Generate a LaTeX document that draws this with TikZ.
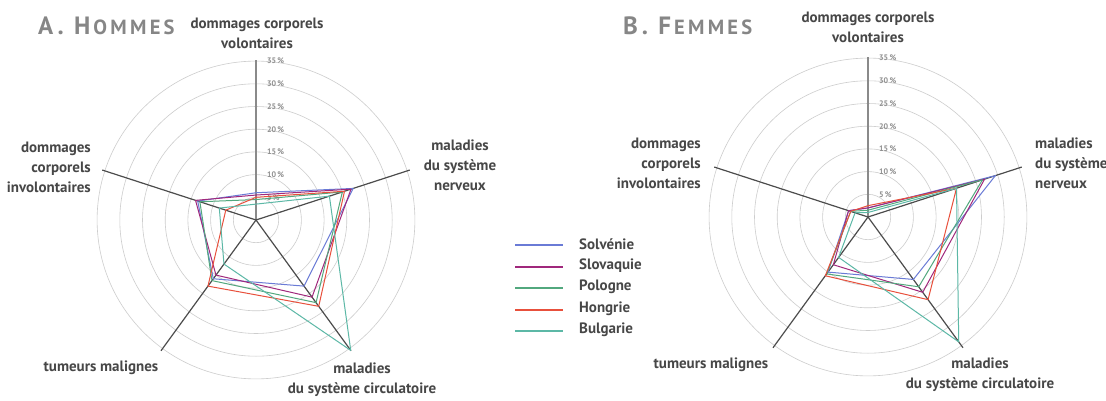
\documentclass[tikz,border=0pt]{standalone}
\usepackage{fontspec}
\setmainfont{PT Sans}
\newfontfamily\titlefont{PT Sans}[LetterSpace=16]
\usetikzlibrary{calc}
\definecolor{cSlo}{HTML}{6A7BD6}
\definecolor{cSlk}{HTML}{A0287C}
\definecolor{cPol}{HTML}{52A87E}
\definecolor{cHon}{HTML}{E8503C}
\definecolor{cBul}{HTML}{5CB8A6}
\definecolor{labelgray}{HTML}{474747}
\definecolor{titlegray}{HTML}{868686}
\definecolor{gridgray}{HTML}{CDCDCD}
\definecolor{axisgray}{HTML}{4C4C4C}
\definecolor{vaxisgray}{HTML}{8A8A8A}
\definecolor{tickgray}{HTML}{8E8E8E}
\tikzset{
  gridline/.style={gridgray, line width=0.6pt},
  axisline/.style={axisgray, line width=1.2pt},
  vaxis/.style={vaxisgray, line width=1.2pt},
  ticklabel/.style={anchor=west, text=tickgray, font=\bfseries\fontsize{8}{8}\selectfont, inner sep=0pt},
  dataline/.style={line width=1pt, line join=round},
  catlabel/.style={text=labelgray, font=\bfseries\fontsize{15}{20}\selectfont, inner sep=0pt},
  legtext/.style={text=labelgray, font=\bfseries\fontsize{15}{20}\selectfont, inner sep=0pt, anchor=west},
  legline/.style={line width=2pt},
  titletext/.style={text=titlegray, inner sep=0pt, anchor=base west}
}
\begin{document}
\begin{tikzpicture}[x=1pt,y=1pt]
\useasboundingbox (0,0) rectangle (1106,400);
\fill[white] (0,0) rectangle (1106,400);

% ---------- Chart A : Hommes ----------
\begin{scope}[shift={(256pt,180pt)}, x=4.54pt, y=4.54pt]
  \foreach \r in {5,10,...,35} \draw[gridline] (0,0) circle[radius=\r];
  \draw[vaxis] (0,0) -- (90:35.3);
  \foreach \a in {18,-54,-126,162} \draw[axisline] (0,0) -- (\a:35.6);
  \foreach \r in {5,10,...,35} \node[ticklabel] at (2.4,\r) {\r\,\%};
  \draw[dataline, cSlo] (90:6) -- (18:22.5) -- (-54:18) -- (-126:16) -- (162:13.5) -- cycle;
  \draw[dataline, cSlk] (90:5.5) -- (18:22) -- (-54:21) -- (-126:15) -- (162:14) -- cycle;
  \draw[dataline, cPol] (90:4.5) -- (18:20) -- (-54:22.5) -- (-126:16.5) -- (162:13) -- cycle;
  \draw[dataline, cHon] (90:5) -- (18:20.5) -- (-54:23.5) -- (-126:18) -- (162:7) -- cycle;
  \draw[dataline, cBul] (90:3.5) -- (18:17) -- (-54:35.5) -- (-126:12) -- (162:8.5) -- cycle;
\end{scope}

% ---------- Chart B : Femmes ----------
\begin{scope}[shift={(868pt,183pt)}, x=4.54pt, y=4.54pt]
  \foreach \r in {5,10,...,35} \draw[gridline] (0,0) circle[radius=\r];
  \draw[vaxis] (0,0) -- (90:35.3);
  \foreach \a in {18,-54,-126,162} \draw[axisline] (0,0) -- (\a:35.6);
  \foreach \r in {5,10,...,35} \node[ticklabel] at (2.4,\r) {\r\,\%};
  \draw[dataline, cSlo] (90:2) -- (18:29.5) -- (-54:17) -- (-126:15) -- (162:4.5) -- cycle;
  \draw[dataline, cSlk] (90:2) -- (18:27) -- (-54:20.5) -- (-126:13) -- (162:4.5) -- cycle;
  \draw[dataline, cPol] (90:1.5) -- (18:26.5) -- (-54:19) -- (-126:15.5) -- (162:4) -- cycle;
  \draw[dataline, cHon] (90:2.5) -- (18:20.5) -- (-54:22.5) -- (-126:16) -- (162:4) -- cycle;
  \draw[dataline, cBul] (90:1) -- (18:20.5) -- (-54:34) -- (-126:11) -- (162:3) -- cycle;
\end{scope}

% ---------- Titles ----------
\node[titletext] (titleA) at (38,365) {\titlefont\bfseries{\fontsize{25}{25}\selectfont A. H}\hspace{3pt}{\fontsize{20.5}{25}\selectfont OMMES}};
\node[titletext] (titleB) at (623,365) {\titlefont\bfseries{\fontsize{25}{25}\selectfont B. F}\hspace{3pt}{\fontsize{20.5}{25}\selectfont EMMES}};

% ---------- Category labels A ----------
\node[catlabel, align=center] (volA) at (257,367) {dommages corporels\\volontaires};
\node[catlabel, align=center] (nervA) at (460,235) {maladies\\du système\\nerveux};
\node[catlabel, align=center] (circA) at (362,20) {maladies\\du système circulatoire};
\node[catlabel] (tumA) at (101,32) {tumeurs malignes};
\node[catlabel, align=right, anchor=east] (invA) at (91,233) {dommages\\corporels\\involontaires};

% ---------- Category labels B ----------
\node[catlabel, align=center] (volB) at (868,373) {dommages corporels\\volontaires};
\node[catlabel, align=left, anchor=west] (nervB) at (1035,237) {maladies\\du système\\nerveux};
\node[catlabel, align=right, anchor=east] (invB) at (701,237) {dommages\\corporels\\involontaires};
\node[catlabel] (tumB) at (711,35) {tumeurs malignes};
\node[catlabel, align=center] (circB) at (980,25) {maladies\\du système circulatoire};

% ---------- Legend ----------
\coordinate (l1a) at (515,155); \coordinate (l1b) at (563,155);
\coordinate (l2a) at (515,133.5); \coordinate (l2b) at (563,133.5);
\coordinate (l3a) at (515,112); \coordinate (l3b) at (563,112);
\coordinate (l4a) at (515,90.5); \coordinate (l4b) at (563,90.5);
\coordinate (l5a) at (515,69); \coordinate (l5b) at (563,69);
\draw[legline, cSlo] (l1a) -- (l1b);
\draw[legline, cSlk] (l2a) -- (l2b);
\draw[legline, cPol] (l3a) -- (l3b);
\draw[legline, cHon] (l4a) -- (l4b);
\draw[legline, cBul] (l5a) -- (l5b);
\node[legtext] (leg1) at (579,156) {Solvénie};
\node[legtext] (leg2) at (579,134.5) {Slovaquie};
\node[legtext] (leg3) at (579,113) {Pologne};
\node[legtext] (leg4) at (579,91.5) {Hongrie};
\node[legtext] (leg5) at (579,70) {Bulgarie};
\end{tikzpicture}
\end{document}
